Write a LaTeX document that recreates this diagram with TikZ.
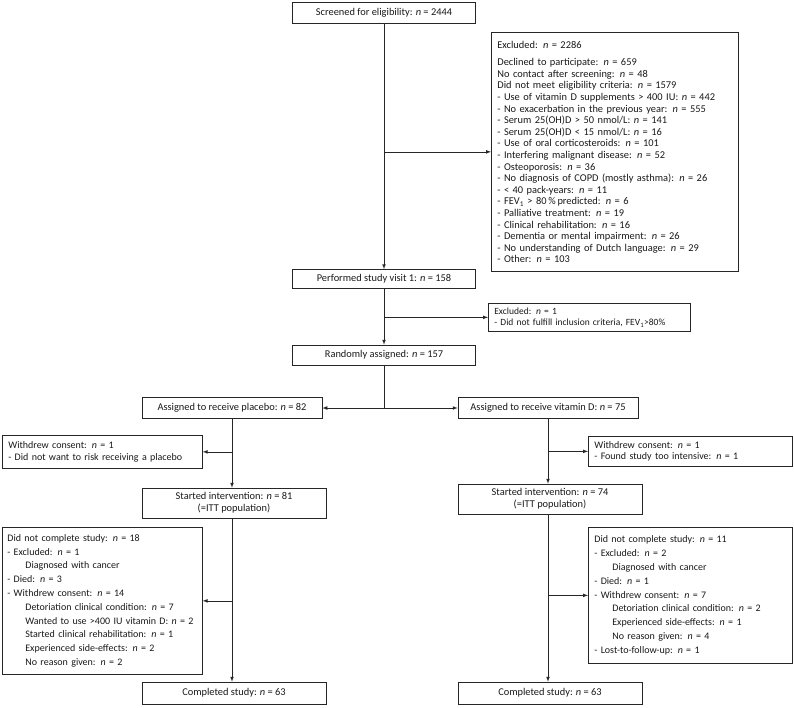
\documentclass[tikz,border=0pt]{standalone}
\usepackage{fontspec}
\setmainfont{Carlito}
\newcommand{\nn}[1]{\textit{n}~=~#1}
\tikzset{
  >=latex,
  box/.style={draw=black!85, line width=.7pt, inner sep=0pt, text=black!90,
    font=\fontsize{10.4}{11.6}\selectfont},
  cbox/.style={box, align=center, minimum height=21pt},
  lbox/.style={box, anchor=north west, align=left, inner xsep=6pt},
  link/.style={draw=black!85, line width=.7pt},
}

\begin{document}
\begin{tikzpicture}[x=1pt,y=-1pt]
  \useasboundingbox (0,0) rectangle (794,707);
  % central column
  \node[cbox, minimum width=183pt] (screen) at (384,13) {Screened for eligibility: \nn{2444}};
  \node[cbox, minimum width=183pt, minimum height=19pt] (visit) at (384,279) {Performed study visit 1: \nn{158}};
  \node[cbox, minimum width=183pt, minimum height=20pt] (rand) at (384,355) {Randomly assigned: \nn{157}};
  \node[lbox, text width=235pt, minimum height=239pt] (excl) at (491,32) {%
    Excluded: \nn{2286}\\[6pt]
    Declined to participate: \nn{659}\\
    No contact after screening: \nn{48}\\
    Did not meet eligibility criteria: \nn{1579}\\
    - Use of vitamin D supplements > 400 IU: \nn{442}\\
    - No exacerbation in the previous year: \nn{555}\\
    - Serum 25(OH)D > 50 nmol/L: \nn{141}\\
    - Serum 25(OH)D < 15 nmol/L: \nn{16}\\
    - Use of oral corticosteroids: \nn{101}\\
    - Interfering malignant disease: \nn{52}\\
    - Osteoporosis: \nn{36}\\
    - No diagnosis of COPD (mostly asthma): \nn{26}\\
    - < 40 pack-years: \nn{11}\\
    - FEV\textsubscript{1} > 80\,\%\,predicted: \nn{6}\\
    - Palliative treatment: \nn{19}\\
    - Clinical rehabilitation: \nn{16}\\
    - Dementia or mental impairment: \nn{26}\\
    - No understanding of Dutch language: \nn{29}\\
    - Other: \nn{103}};
  \node[lbox, text width=190pt, minimum height=28pt, font=\fontsize{9.5}{11.6}\selectfont] (excl2) at (488,303) {%
    Excluded: \nn{1}\\
    - Did not fulfill inclusion criteria, FEV\textsubscript{1}>80\%};
  % placebo arm
  \node[cbox, minimum width=180pt] (plac) at (232,408) {Assigned to receive placebo: \nn{82}};
  \node[lbox, text width=188pt, minimum height=33pt, font=\fontsize{10}{11.6}\selectfont] (wdL) at (2,435) {%
    Withdrew consent: \nn{1}\\
    - Did not want to risk receiving a placebo};
  \node[cbox, minimum width=184pt, minimum height=30pt] (startL) at (234,503) {Started intervention: \nn{81}\\(=ITT population)};
  \node[lbox, text width=190pt, inner xsep=5pt, minimum height=147pt, font=\fontsize{10}{13.8}\selectfont] (dncL) at (2,527) {%
    Did not complete study: \nn{18}\\
    - Excluded: \nn{1}\\
    \hspace*{18pt}Diagnosed with cancer\\
    - Died: \nn{3}\\
    - Withdrew consent: \nn{14}\\
    \hspace*{18pt}Detoriation clinical condition: \nn{7}\\
    \hspace*{18pt}Wanted to use >400 IU vitamin D: \nn{2}\\
    \hspace*{18pt}Started clinical rehabilitation: \nn{1}\\
    \hspace*{18pt}Experienced side-effects: \nn{2}\\
    \hspace*{18pt}No reason given: \nn{2}};
  \node[cbox, minimum width=184pt, minimum height=22pt] (doneL) at (234,693) {Completed study: \nn{63}};
  % vitamin D arm
  \node[cbox, minimum width=180pt] (vitd) at (548,408) {Assigned to receive vitamin D: \nn{75}};
  \node[lbox, text width=192pt, minimum height=30pt, font=\fontsize{10}{11.6}\selectfont] (wdR) at (588,436) {%
    Withdrew consent: \nn{1}\\
    - Found study too intensive: \nn{1}};
  \node[cbox, minimum width=184pt, minimum height=30pt] (startR) at (550,499) {Started intervention: \nn{74}\\(=ITT population)};
  \node[lbox, text width=192pt, minimum height=136pt, font=\fontsize{10}{13.8}\selectfont] (dncR) at (588,527) {%
    Did not complete study: \nn{11}\\
    - Excluded: \nn{2}\\
    \hspace*{18pt}Diagnosed with cancer\\
    - Died: \nn{1}\\
    - Withdrew consent: \nn{7}\\
    \hspace*{18pt}Detoriation clinical condition: \nn{2}\\
    \hspace*{18pt}Experienced side-effects: \nn{1}\\
    \hspace*{18pt}No reason given: \nn{4}\\
    - Lost-to-follow-up: \nn{1}};
  \node[cbox, minimum width=184pt, minimum height=22pt] (doneR) at (550,693) {Completed study: \nn{63}};

  % connectors
  \coordinate (split) at (rand.south |- plac.east);
  \draw[link,->] (screen) -- (visit);
  \draw[link,->] (excl.west -| screen.south) -- (excl.west);
  \draw[link,->] (visit) -- (rand);
  \draw[link,->] (excl2.west -| visit.south) -- (excl2.west);
  \draw[link] (rand) -- (split);
  \draw[link,->] (split) -- (plac);
  \draw[link,->] (split) -- (vitd);
  \draw[link,->] (plac.south) -- (plac.south |- startL.north);
  \draw[link,->] (wdL.east -| plac.south) -- (wdL.east);
  \draw[link,->] (plac.south |- startL.south) -- (plac.south |- doneL.north);
  \draw[link,->] (dncL.east -| plac.south) -- (dncL.east);
  \draw[link,->] (vitd.south) -- (vitd.south |- startR.north);
  \draw[link,->] (wdR.west -| vitd.south) -- (wdR.west);
  \draw[link,->] (vitd.south |- startR.south) -- (vitd.south |- doneR.north);
  \draw[link,->] (dncR.west -| vitd.south) -- (dncR.west);
\end{tikzpicture}
\end{document}
